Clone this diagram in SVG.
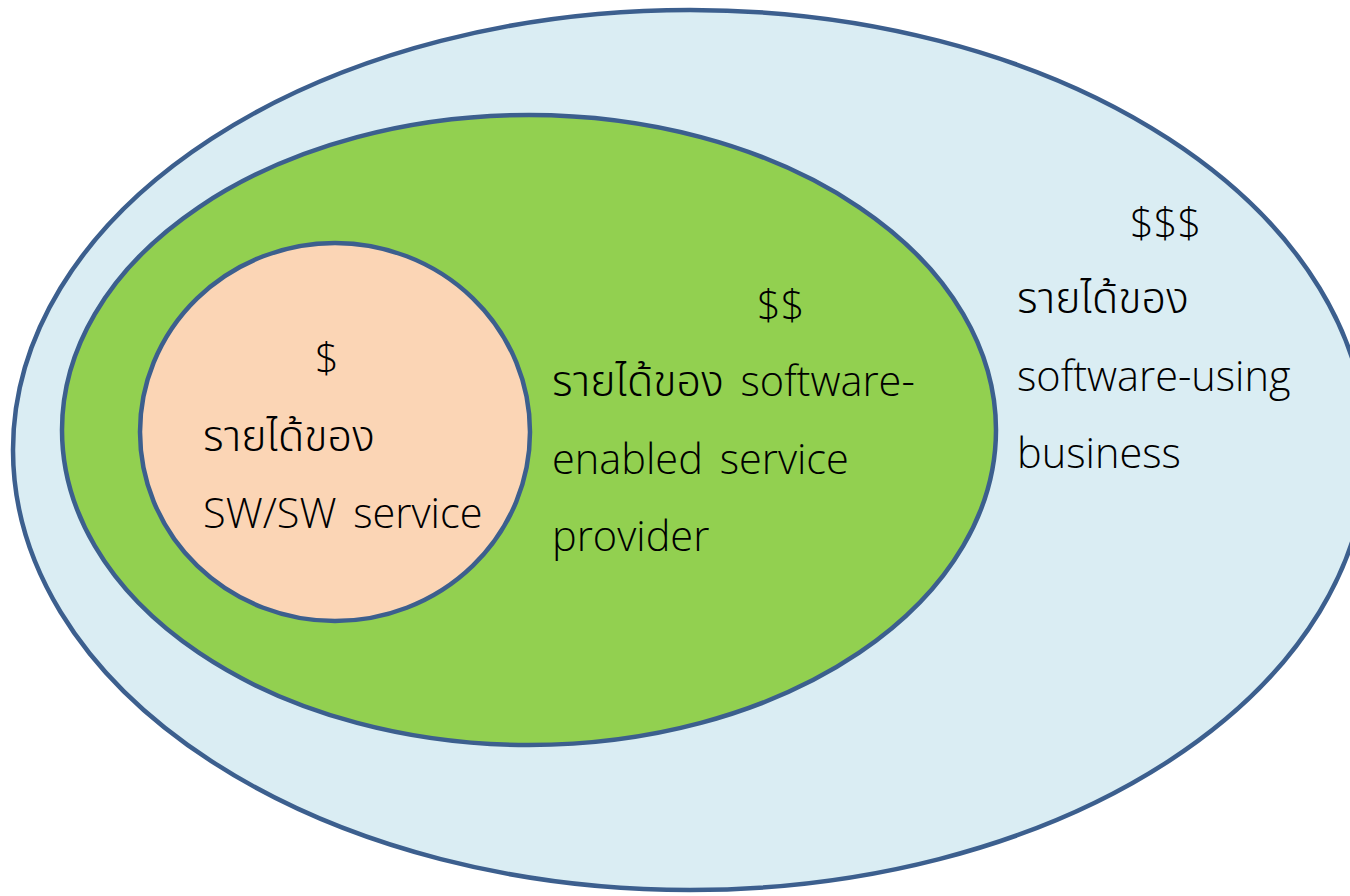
<svg xmlns="http://www.w3.org/2000/svg" width="1350" height="896" viewBox="0 0 1350 896">
<style>
.e{stroke:#3c5f8e;stroke-width:4.5}
.t{font-family:"Open Sans","Noto Sans","Noto Sans Thai","Noto Sans CJK SC",sans-serif;font-size:41.5px;font-weight:300;fill:#000;word-spacing:6px}
.th{font-size:43px}
</style>
<rect width="1350" height="896" fill="#ffffff"/>
<g id="outer">
<ellipse class="e" cx="690" cy="450" rx="677" ry="440" fill="#daedf3"/>
<text class="t" x="1130" y="238">$$$</text>
<text class="t th" x="1017" y="313">รายได้ของ</text>
<text class="t" x="1017" y="391">software-using</text>
<text class="t" x="1017" y="468">business</text>
</g>
<g id="middle">
<ellipse class="e" cx="529" cy="430" rx="467" ry="315" fill="#92d050"/>
<text class="t" x="757" y="320">$$</text>
<text class="t" x="552" y="396"><tspan class="th">รายได้ของ</tspan> software-</text>
<text class="t" x="552" y="474">enabled service</text>
<text class="t" x="552" y="551">provider</text>
</g>
<g id="inner">
<ellipse class="e" cx="335" cy="432" rx="195" ry="189" fill="#fbd5b5"/>
<text class="t" x="315" y="373">$</text>
<text class="t th" x="203" y="451">รายได้ของ</text>
<text class="t" x="203" y="528">SW/SW service</text>
</g>
<g id="connectors"/>
</svg>
